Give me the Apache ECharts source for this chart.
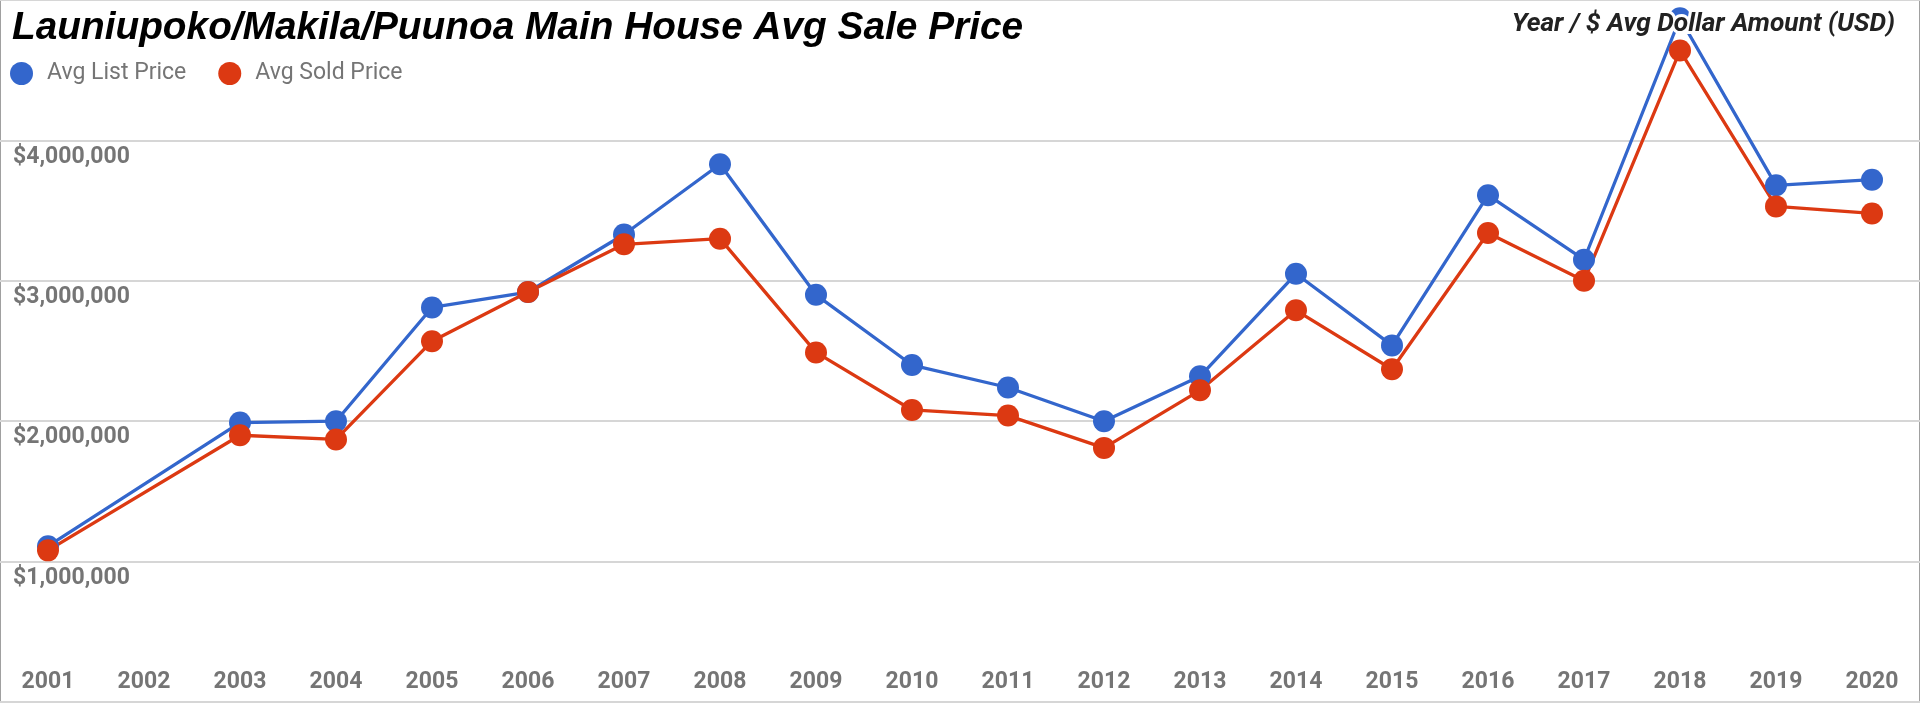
<!DOCTYPE html>
<html>
<head>
<meta charset="utf-8">
<style>html,body{margin:0;padding:0;background:#fff;}#c{width:1920px;height:707px;}</style>
<script src="https://cdn.jsdelivr.net/npm/echarts@6/dist/echarts.min.js"></script>
</head>
<body>
<div id="c"></div>
<script>
const years = ['2001','2002','2003','2004','2005','2006','2007','2008','2009','2010','2011','2012','2013','2014','2015','2016','2017','2018','2019','2020'];
const avgListPrice = [1110000, null, 1990000, 2000000, 2810000, 2920000, 3330000, 3830000, 2900000, 2400000, 2240000, 2000000, 2320000, 3050000, 2540000, 3610000, 3150000, 4870000, 3680000, 3720000];
const avgSoldPrice = [1080000, null, 1900000, 1870000, 2570000, 2920000, 3260000, 3300000, 2490000, 2080000, 2040000, 1810000, 2220000, 2790000, 2370000, 3340000, 3000000, 4640000, 3530000, 3480000];
const yTickLabels = ['', '$1,000,000', '$2,000,000', '$3,000,000', '$4,000,000', ''];

const chart = echarts.init(document.getElementById('c'));
chart.setOption({
  animation: false,
  backgroundColor: '#fff',
  title: [
    {
      text: 'Launiupoko/Makila/Puunoa Main House Avg Sale Price',
      left: 7, top: 4,
      textStyle: {fontFamily: 'Liberation Sans', fontStyle: 'italic', fontWeight: 'bold', fontSize: 38.8, color: '#000'}
    },
    {
      text: 'Year / $ Avg Dollar Amount (USD)',
      right: 14, top: 6,
      textStyle: {fontFamily: 'Roboto', fontStyle: 'italic', fontWeight: 'bold', fontSize: 26.3, color: '#222',
                  textBorderColor: '#fff', textBorderWidth: 6}
    }
  ],
  legend: {
    left: 5, top: 57,
    icon: 'circle', itemWidth: 23, itemHeight: 23, itemGap: 32,
    textStyle: {fontFamily: 'Roboto', fontSize: 23, color: '#757575', padding: [0, 0, 0, 9]},
    data: ['Avg List Price', 'Avg Sold Price']
  },
  grid: {left: 0, right: 0, top: 0, bottom: 3.3, show: true, borderColor: '#a0a0a0', borderWidth: 2},
  xAxis: {
    type: 'category', data: years, boundaryGap: true,
    axisLine: {show: false}, axisTick: {show: false},
    axisLabel: {inside: true, margin: 19.5, verticalAlign: 'middle', fontFamily: 'Roboto', fontWeight: 'bold', fontSize: 23, color: '#757575'}
  },
  yAxis: {
    type: 'value', min: 0, max: 5000000, interval: 1000000,
    axisLine: {show: false}, axisTick: {show: false},
    splitLine: {lineStyle: {color: '#d6d6d6', width: 2}},
    axisLabel: {
      inside: true, margin: 13, align: 'left', verticalAlign: 'top', lineHeight: 23, padding: [5, 0, 0, 0],
      fontFamily: 'Roboto', fontWeight: 'bold', fontSize: 23, color: '#757575',
      formatter: (v) => yTickLabels[Math.round(v / 1000000)]
    }
  },
  series: [
    {
      name: 'Avg List Price', type: 'line', data: avgListPrice, connectNulls: true,
      symbol: 'circle', symbolSize: 22, color: '#3366cc',
      lineStyle: {width: 3.3, color: '#3366cc'}, itemStyle: {color: '#3366cc'}
    },
    {
      name: 'Avg Sold Price', type: 'line', data: avgSoldPrice, connectNulls: true,
      symbol: 'circle', symbolSize: 22, color: '#dc3912',
      lineStyle: {width: 3.3, color: '#dc3912'}, itemStyle: {color: '#dc3912'}
    }
  ]
});
</script>
</body>
</html>
